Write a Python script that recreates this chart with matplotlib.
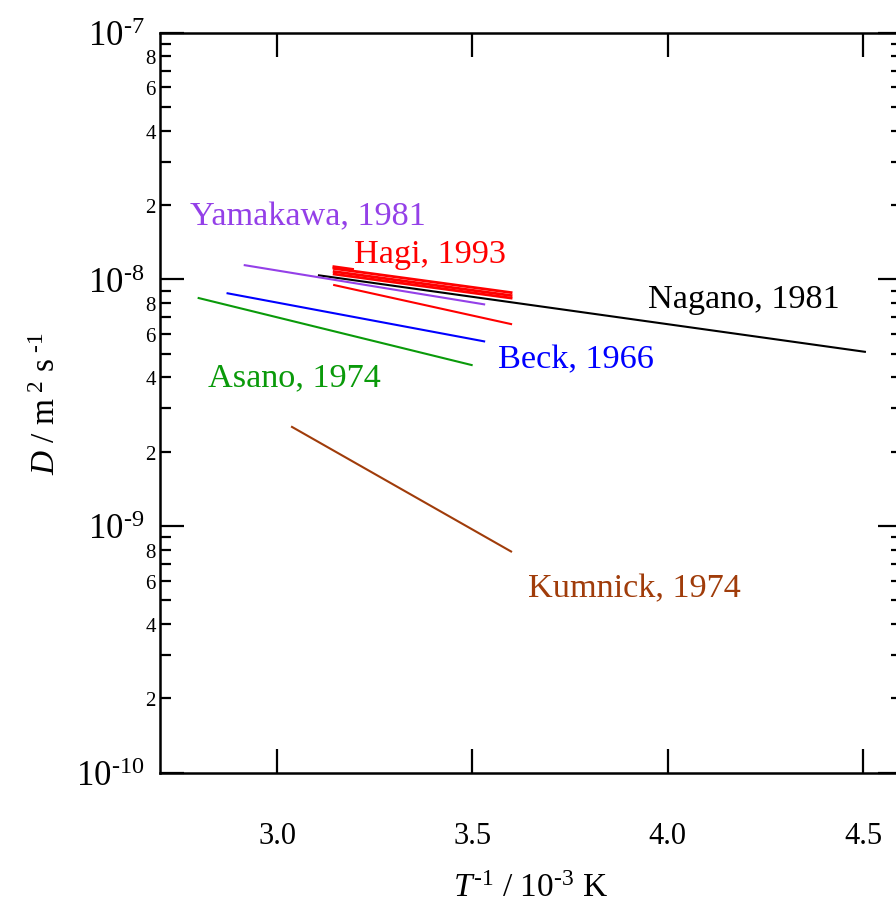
import numpy as np
import matplotlib
matplotlib.use("Agg")
import matplotlib.pyplot as plt
from matplotlib.ticker import LogLocator, FixedLocator, FuncFormatter

plt.rcParams["font.family"] = ["Liberation Serif", "DejaVu Serif"]
plt.rcParams["mathtext.fontset"] = "custom"
plt.rcParams["mathtext.rm"] = "Liberation Serif"
plt.rcParams["mathtext.it"] = "Liberation Serif:italic"

# --- data: straight Arrhenius lines, (1/T in 1e-3 K^-1, D in m^2/s) ---
yamakawa_x = [2.917, 3.530]
yamakawa_d = [1.14e-8, 7.91e-9]

nagano_x = [3.107, 4.505]
nagano_d = [1.037e-8, 5.08e-9]

beck_x = [2.873, 3.530]
beck_d = [8.77e-9, 5.60e-9]

asano_x = [2.799, 3.498]
asano_d = [8.39e-9, 4.49e-9]

kumnick_x = [3.038, 3.599]
kumnick_d = [2.52e-9, 7.88e-10]

# Hagi 1993: several data sets
hagi_x = [3.146, 3.599]
hagi_d = [
    [1.105e-8, 8.83e-9],
    [1.074e-8, 8.59e-9],
    [1.049e-8, 8.39e-9],
    [9.47e-9, 6.58e-9],
]
hagi_short_x = [3.146, 3.192]
hagi_short_d = [1.12e-8, 1.094e-8]

xticks = [3.0, 3.5, 4.0, 4.5]

fig = plt.figure(figsize=(8.96, 9.03), dpi=100)
ax = fig.add_axes([160 / 896, 1 - 773.7 / 903, (902 - 160) / 896, (773.7 - 33.5) / 903])

lw = 1.5
ax.plot(nagano_x, nagano_d, color="black", lw=lw)
ax.plot(yamakawa_x, yamakawa_d, color="#9440E8", lw=lw)
ax.plot(beck_x, beck_d, color="#0000FF", lw=lw)
ax.plot(asano_x, asano_d, color="#0A9A0A", lw=lw)
ax.plot(kumnick_x, kumnick_d, color="#A03C0A", lw=lw)
for i, d in enumerate(hagi_d):
    ax.plot(hagi_x, d, color="#FF0000", lw=2.0 if i < 3 else lw)
ax.plot(hagi_short_x, hagi_short_d, color="#FF0000", lw=2.5)

fs = 24.7
ax.text(2.778, 1.675e-8, "Yamakawa, 1981", color="#9440E8", fontsize=fs)
ax.text(3.197, 1.174e-8, "Hagi, 1993", color="#FF0000", fontsize=fs)
ax.text(3.949, 7.71e-9, "Nagano, 1981", color="black", fontsize=fs)
ax.text(3.566, 4.41e-9, "Beck, 1966", color="#0000FF", fontsize=fs)
ax.text(2.822, 3.72e-9, "Asano, 1974", color="#0A9A0A", fontsize=fs)
ax.text(3.642, 5.21e-10, "Kumnick, 1974", color="#A03C0A", fontsize=fs)

ax.set_yscale("log")
ax.set_xlim(2.7, 4.6)
ax.set_ylim(1e-10, 1e-7)

ax.xaxis.set_major_locator(FixedLocator(xticks))
ax.xaxis.set_major_formatter(FuncFormatter(lambda v, p: f"{v:.1f}"))
ax.yaxis.set_major_locator(LogLocator(base=10, numticks=10))
ax.yaxis.set_major_formatter(
    FuncFormatter(lambda v, p: r"$10^{\text{%d}}$" % int(round(np.log10(v))))
)
ax.yaxis.set_minor_locator(LogLocator(base=10, subs=np.arange(2, 10), numticks=20))


def minor_fmt(v, p):
    m = int(round(v / 10 ** np.floor(np.log10(v))))
    return str(m) if m in (2, 4, 6, 8) else ""


ax.yaxis.set_minor_formatter(FuncFormatter(minor_fmt))

ax.tick_params(axis="both", which="major", direction="in", length=17, width=1.6,
               top=True, right=True)
ax.tick_params(axis="y", which="minor", direction="in", length=8, width=1.6,
               right=True, labelsize=15, pad=3)
ax.tick_params(axis="y", which="major", labelsize=25, pad=11)
ax.tick_params(axis="x", which="major", labelsize=22, pad=35)

for s in ax.spines.values():
    s.set_linewidth(1.8)

ax.set_xlabel(r"$T^{\text{-1}}$ / 10$^{\text{-3}}$ K", fontsize=24, labelpad=16)
ax.set_ylabel(r"$D$ / m$^{\text{ 2}}$ s$^{\text{ -1}}$", fontsize=24, labelpad=10)

fig.savefig("out.png", dpi=100)
